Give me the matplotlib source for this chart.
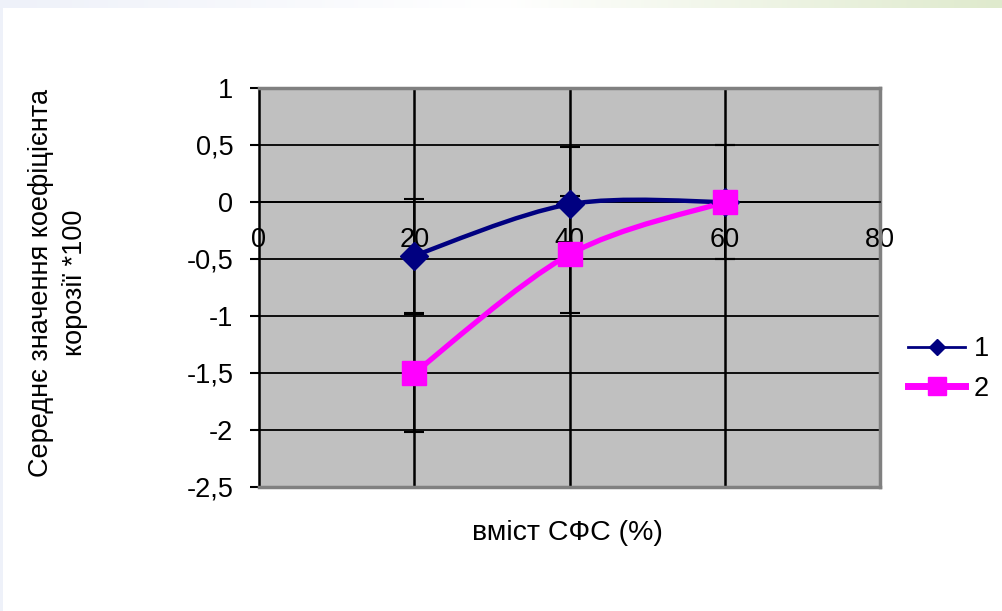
import numpy as np
import matplotlib
matplotlib.use("Agg")
import matplotlib.pyplot as plt
from matplotlib.path import Path
from matplotlib.patches import PathPatch, Rectangle
from matplotlib.lines import Line2D

plt.rcParams['font.family'] = ['Liberation Sans', 'DejaVu Sans']

# ---- data ----
x_vals = [20, 40, 60]
series1 = [-0.47, -0.02, 0.0]
series2 = [-1.5, -0.46, 0.0]
err1 = [0.5, 0.5, 0.5]
err2 = [0.52, 0.51, 0.5]
series_names = ["1", "2"]
x_ticks = [0, 20, 40, 60, 80]
y_ticks = [1, 0.5, 0, -0.5, -1, -1.5, -2, -2.5]
y_ticklabels = ["1", "0,5", "0", "-0,5", "-1", "-1,5", "-2", "-2,5"]
x_label = "вміст СФС (%)"
y_label = "Середнє значення коефіцієнта\nкорозії *100"

W, H = 1002, 611
fig = plt.figure(figsize=(W / 100, H / 100), dpi=100)
fig.patch.set_facecolor('white')

# decorative top gradient strip and left strip
gax = fig.add_axes([0, 1 - 8 / H, 1, 8 / H])
c_left = np.array([0xEE, 0xF1, 0xF9]) / 255
c_mid = np.array([1.0, 1.0, 1.0])
c_right = np.array([0xDF, 0xEA, 0xCD]) / 255
t = np.linspace(0, 1, 500)
grad = np.where(t[:, None] < 0.5,
                c_left + (c_mid - c_left) * (t[:, None] / 0.5),
                c_mid + (c_right - c_mid) * ((t[:, None] - 0.5) / 0.5))
gax.imshow(grad[None, :, :], aspect='auto', extent=[0, 1, 0, 1])
gax.axis('off')
fig.patches.append(Rectangle((0, 0), 3 / W, 1, transform=fig.transFigure,
                             facecolor='#EEF1F9', edgecolor='none', zorder=0))

ax = fig.add_axes([259 / W, 1 - 487 / H, (880 - 259) / W, (487 - 88) / H])
ax.set_facecolor('#C0C0C0')
ax.set_xlim(0, 80)
ax.set_ylim(-2.5, 1)

# gridlines
for yv in y_ticks[1:-1]:
    ax.axhline(yv, color='black', lw=1.3, zorder=1)
for xv in x_ticks[1:-1]:
    ax.axvline(xv, color='black', lw=1.8, zorder=1)

# spines
for s in ['top', 'right']:
    ax.spines[s].set_color('#808080')
    ax.spines[s].set_linewidth(2.5)
ax.spines['left'].set_color('black')
ax.spines['left'].set_linewidth(1.8)
ax.spines['bottom'].set_position(('data', 0))
ax.spines['bottom'].set_color('black')
ax.spines['bottom'].set_linewidth(1.3)
ax.plot([0, 1], [0, 0], transform=ax.transAxes, color='#808080', lw=2.5,
        clip_on=False, zorder=5)

ax.set_yticks(y_ticks)
ax.set_yticklabels(y_ticklabels)
ax.set_xticks(x_ticks)
ax.set_xticklabels([str(v) for v in x_ticks])
ax.tick_params(axis='y', direction='out', length=6.5, width=1.5, pad=12,
               labelsize=19.5, color='black')
ax.tick_params(axis='x', length=0, pad=18, labelsize=19.5)


def smooth_path(xs, ys):
    pts = list(zip(xs, ys))
    verts = [pts[0]]
    codes = [Path.MOVETO]
    n = len(pts)
    for i in range(n - 1):
        p0 = np.array(pts[i - 1] if i > 0 else pts[i])
        p1 = np.array(pts[i])
        p2 = np.array(pts[i + 1])
        p3 = np.array(pts[i + 2] if i + 2 < n else pts[i + 1])
        c1 = p1 + (p2 - p0) / 6.0
        c2 = p2 - (p3 - p1) / 6.0
        verts += [tuple(c1), tuple(c2), tuple(p2)]
        codes += [Path.CURVE4] * 3
    return Path(verts, codes)


# error bars
ax.errorbar(x_vals, series1, yerr=err1, fmt='none', ecolor='black',
            elinewidth=1.3, capsize=7, capthick=1.5, zorder=2)
ax.errorbar(x_vals, series2, yerr=err2, fmt='none', ecolor='black',
            elinewidth=1.3, capsize=7, capthick=1.5, zorder=2)

# series lines (smoothed)
ax.add_patch(PathPatch(smooth_path(x_vals, series1), facecolor='none',
                       edgecolor='#000080', lw=3.2, zorder=3))
ax.add_patch(PathPatch(smooth_path(x_vals, series2), facecolor='none',
                       edgecolor='#FF00FF', lw=3.8, zorder=3))
ax.plot(x_vals, series1, linestyle='none', marker='D', markersize=14,
        color='#000080', zorder=4)
ax.plot(x_vals, series2, linestyle='none', marker='s', markersize=17,
        color='#FF00FF', zorder=4)

# axis labels
fig.text(567 / W, 1 - 533 / H, x_label, ha='center', va='center', fontsize=20.5)
fig.text(58 / W, 1 - 283 / H, y_label, ha='center', va='center', fontsize=19.5,
         rotation=90, linespacing=1.35)

# legend
h1 = Line2D([], [], color='#000080', lw=2, marker='D', markersize=8)
h2 = Line2D([], [], color='#FF00FF', lw=5, marker='s', markersize=13)
leg = fig.legend([h1, h2], series_names, loc='center left',
                 bbox_to_anchor=(884 / W, 1 - 369 / H), frameon=False,
                 fontsize=19.5, handlelength=2.1, handletextpad=0.3,
                 labelspacing=0.5)

fig.savefig('out.png', dpi=100)
